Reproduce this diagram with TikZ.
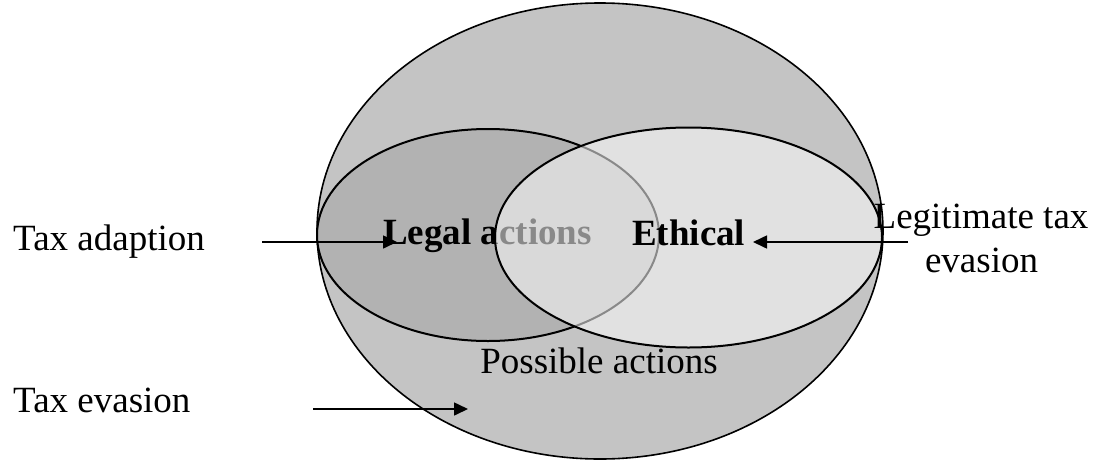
\documentclass[tikz,border=0pt]{standalone}
\usepackage{fontspec}
\setmainfont{Liberation Serif}
\usetikzlibrary{shapes.geometric,arrows.meta}
\begin{document}
\begin{tikzpicture}[x=1pt,y=-1pt,
  every node/.style={font=\fontsize{37}{44}\selectfont, inner sep=0pt},
  region/.style={ellipse, draw=black, line width=2pt, inner sep=0pt},
  label/.style={text=black},
  pointer/.style={draw=black, line width=1.6pt, -{Triangle[length=14pt,width=13pt]}}]
  \useasboundingbox (0,0) rectangle (1099,461);

  % all possible actions
  \node[region, fill=black!23, line width=1.6pt,
        minimum width=566pt, minimum height=456pt] (possible) at (600,231) {};

  % legal actions
  \node[region, fill=black!30, minimum width=342pt, minimum height=212pt] (legal) at (488,235) {};
  \node[label, font=\fontsize{37}{44}\selectfont\bfseries, anchor=base west] (legaltxt) at (383,244) {Legal actions};

  % ethical actions, translucent so the overlap shows through
  \node[region, fill=white!98!black, fill opacity=0.55,
        minimum width=387pt, minimum height=220pt] (ethical) at (688.5,237.5) {};
  \node[label, font=\fontsize{37}{44}\selectfont\bfseries, anchor=base west] (ethtxt) at (632,245) {Ethical};

  \node[label, anchor=base] (posstxt) at (599,373) {Possible actions};

  % outside labels
  \node[label, anchor=base west] (adapt) at (13,250) {Tax adaption};
  \node[label, anchor=base west] (evas) at (13,412) {Tax evasion};
  \node[label, anchor=base] (legit1) at (981,228) {Legitimate tax};
  \node[label, anchor=base] (legit2) at (981.5,272) {evasion};

  % pointers
  \coordinate (a0) at (262,242);
  \coordinate (a1) at (397,242);
  \coordinate (e0) at (908,242);
  \coordinate (e1) at (753,242);
  \coordinate (v0) at (313,409);
  \coordinate (v1) at (468,409);
  \draw[pointer] (a0) -- (a1);
  \draw[pointer] (e0) -- (e1);
  \draw[pointer] (v0) -- (v1);
\end{tikzpicture}
\end{document}
